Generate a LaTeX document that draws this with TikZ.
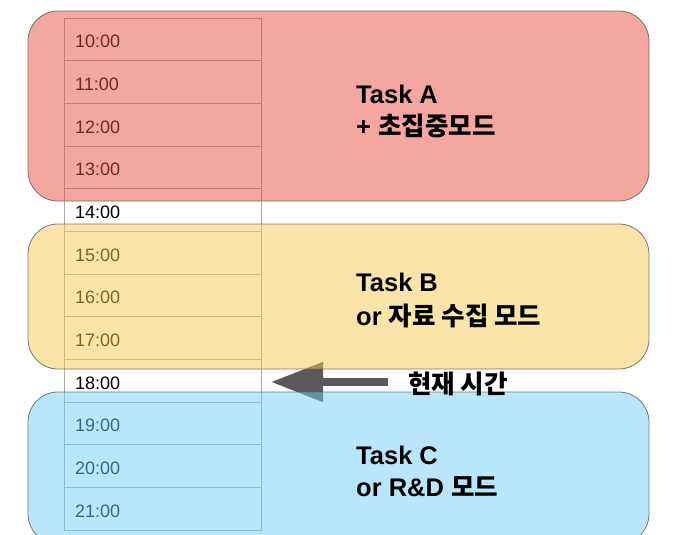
\documentclass[tikz,border=0pt]{standalone}
\usepackage{fontspec}
\setmainfont{Liberation Sans}
\newfontfamily\kr{Noto Sans CJK KR}
\usetikzlibrary{arrows.meta}
\definecolor{redbox}{RGB}{233,77,65}
\definecolor{yellowbox}{RGB}{247,201,85}
\definecolor{bluebox}{RGB}{115,205,245}
\definecolor{arrowgray}{RGB}{89,89,89}
\definecolor{gridgray}{RGB}{170,170,170}
\begin{document}
\begin{tikzpicture}[x=1pt,y=-1pt,
  taskbox/.style={draw=black!65, line width=0.8pt, rounded corners=30pt, fill opacity=0.5, draw opacity=0.8},
  gridline/.style={draw=gridgray, line width=0.8pt},
  timelabel/.style={anchor=base west, inner sep=0pt, font=\fontsize{18}{20}\selectfont},
  tasklabel/.style={anchor=base west, inner sep=0pt, font=\fontsize{25.5}{30}\selectfont\bfseries},
  nowarrow/.style={draw=arrowgray, line width=8pt, -{Triangle[length=52pt,width=38pt]}}]
\useasboundingbox (0,0) rectangle (680,535);
\clip (0,0) rectangle (680,535);
% time table
\draw[gridline] (64,18) rectangle (261,530);
\foreach \i in {1,...,11}
  \draw[gridline] (64,{18+\i*42.667}) -- (261,{18+\i*42.667});
\foreach \t [count=\i from 0] in {10,...,21}
  \node[timelabel] (t\t) at (75,{18+\i*42.667+29.7}) {\t:00};
% arrow (under the boxes)
\coordinate (arrowtail) at (388,382);
\coordinate (arrowtip) at (271,382);
\draw[nowarrow] (arrowtail) -- (arrowtip);
% task boxes
\path[taskbox, fill=redbox] (28,11) rectangle (649,201);
\path[taskbox, fill=yellowbox] (28,224) rectangle (649,369);
\path[taskbox, fill=bluebox] (28,392) rectangle (649,544);
% labels
\node[tasklabel] (a1) at (356,103.3) {Task A};
\node[tasklabel] (a2) at (356,135.5) {+ {\kr 초집중모드}};
\node[tasklabel] (b1) at (356,291.7) {Task B};
\node[tasklabel] (b2) at (356,325) {or {\kr 자료 수집 모드}};
\node[tasklabel] (c1) at (356,464) {Task C};
\node[tasklabel] (c2) at (356,496.7) {or R\&D {\kr 모드}};
\node[tasklabel] (now) at (408,393) {\kr 현재 시간};
\end{tikzpicture}
\end{document}
